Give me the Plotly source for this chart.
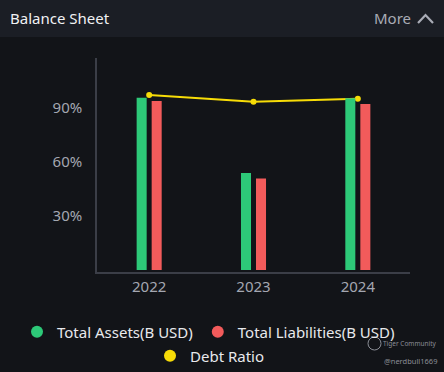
import plotly.graph_objects as go

years = ["2022", "2023", "2024"]
total_assets = [95.7, 53.9, 95.4]
total_liabilities = [93.9, 50.9, 92.2]
debt_ratio = [97.2, 93.5, 95.2]
y_ticks = [30, 60, 90]
y_tick_labels = ["30%", "60%", "90%"]

GREEN = "#2dc978"
RED = "#f25b5b"
YELLOW = "#f7dc07"
BG = "#121418"
HEADER = "#1b1e25"
TICK = "#a4a7b1"
AXIS = "#3b3e47"

PL, PR, PT, PB = 97, 34, 58, 100
PW, PH = 444 - PL - PR, 372 - PT - PB


def px(x):
    return (x - PL) / PW


def py(y):
    return (372 - PB - y) / PH


fig = go.Figure()
fig.add_trace(go.Bar(x=years, y=total_assets, marker_color=GREEN, marker_line_width=0,
                     name="Total Assets(B USD)", showlegend=False, yaxis="y2"))
fig.add_trace(go.Bar(x=years, y=total_liabilities, marker_color=RED, marker_line_width=0,
                     name="Total Liabilities(B USD)", showlegend=False, yaxis="y2"))
fig.add_trace(go.Scatter(x=years, y=debt_ratio, mode="lines+markers",
                         line=dict(color=YELLOW, width=2), marker=dict(color=YELLOW, size=6),
                         name="Debt Ratio", showlegend=False))
# legend entries (circle symbols)
for nm, col, lg in [("Total Assets(B USD)", GREEN, "legend"),
                    ("Total Liabilities(B USD)", RED, "legend"),
                    ("Debt Ratio", YELLOW, "legend2")]:
    fig.add_trace(go.Scatter(x=[None], y=[None], mode="markers", name=nm, legend=lg,
                             marker=dict(color=col, size=13, symbol="circle")))

fig.update_layout(
    width=444, height=372,
    margin=dict(l=PL, r=PR, t=PT, b=PB, autoexpand=False),
    paper_bgcolor=BG, plot_bgcolor=BG,
    barmode="group", bargap=0.712, bargroupgap=0.333,
    font=dict(family="Noto Sans, Open Sans, sans-serif", color=TICK),
    xaxis=dict(type="category", range=[-0.5, 2.5], showgrid=False, showline=True,
               linecolor=AXIS, linewidth=1.5, ticks="", tickfont=dict(size=15, color=TICK),
               zeroline=False),
    yaxis=dict(range=[-1.1, 117.8], showgrid=False, showline=True, linecolor=AXIS, linewidth=1.5,
               tickvals=y_ticks, ticktext=y_tick_labels, ticks="", ticklabelstandoff=10,
               tickfont=dict(size=15, color=TICK), zeroline=False),
    yaxis2=dict(range=[-1.1, 117.8], overlaying="y", visible=False),
    legend=dict(orientation="h", x=px(17), xanchor="left", y=py(332), yanchor="middle",
                font=dict(size=15, color="#e8e9ec"), bgcolor="rgba(0,0,0,0)",
                itemsizing="constant", itemwidth=30, tracegroupgap=0),
    legend2=dict(orientation="h", x=px(210), xanchor="center", y=py(356), yanchor="middle",
                 font=dict(size=15, color="#e8e9ec"), bgcolor="rgba(0,0,0,0)",
                 itemsizing="constant", itemwidth=30),
    showlegend=True,
)

fig.add_shape(type="rect", xref="paper", yref="paper", x0=px(0), x1=px(444),
              y0=py(37), y1=py(0), fillcolor=HEADER, line_width=0, layer="below")
fig.add_annotation(text="Balance Sheet", xref="paper", yref="paper",
                   x=px(8), y=py(18), xanchor="left", yanchor="middle",
                   showarrow=False, font=dict(size=15, color="#f0f1f3"))
fig.add_annotation(text="More", xref="paper", yref="paper",
                   x=px(392), y=py(18), xanchor="center", yanchor="middle",
                   showarrow=False, font=dict(size=15, color="#a9acb6"))
fig.add_shape(type="path", xref="paper", yref="paper",
              path="M {:.4f},{:.4f} L {:.4f},{:.4f} L {:.4f},{:.4f}".format(
                  px(418), py(23), px(425.5), py(15), px(433), py(23)),
              line=dict(color="#a9acb6", width=2.2))
fig.add_annotation(text="Tiger Community", xref="paper", yref="paper",
                   x=px(439), y=py(343), xanchor="right", yanchor="middle",
                   showarrow=False, font=dict(size=6.5, color="#8a8d95"))
fig.add_annotation(text="@nerdbull1669", xref="paper", yref="paper",
                   x=px(439), y=py(361), xanchor="right", yanchor="middle",
                   showarrow=False, font=dict(size=7.5, color="#8a8d95"))
fig.add_shape(type="circle", xref="paper", yref="paper",
              x0=px(368), x1=px(381), y0=py(350), y1=py(337),
              line=dict(color="#8a8d95", width=1))

fig.write_html("out.html", config={"displayModeBar": False},
               post_script="document.body.style.margin='0';")
